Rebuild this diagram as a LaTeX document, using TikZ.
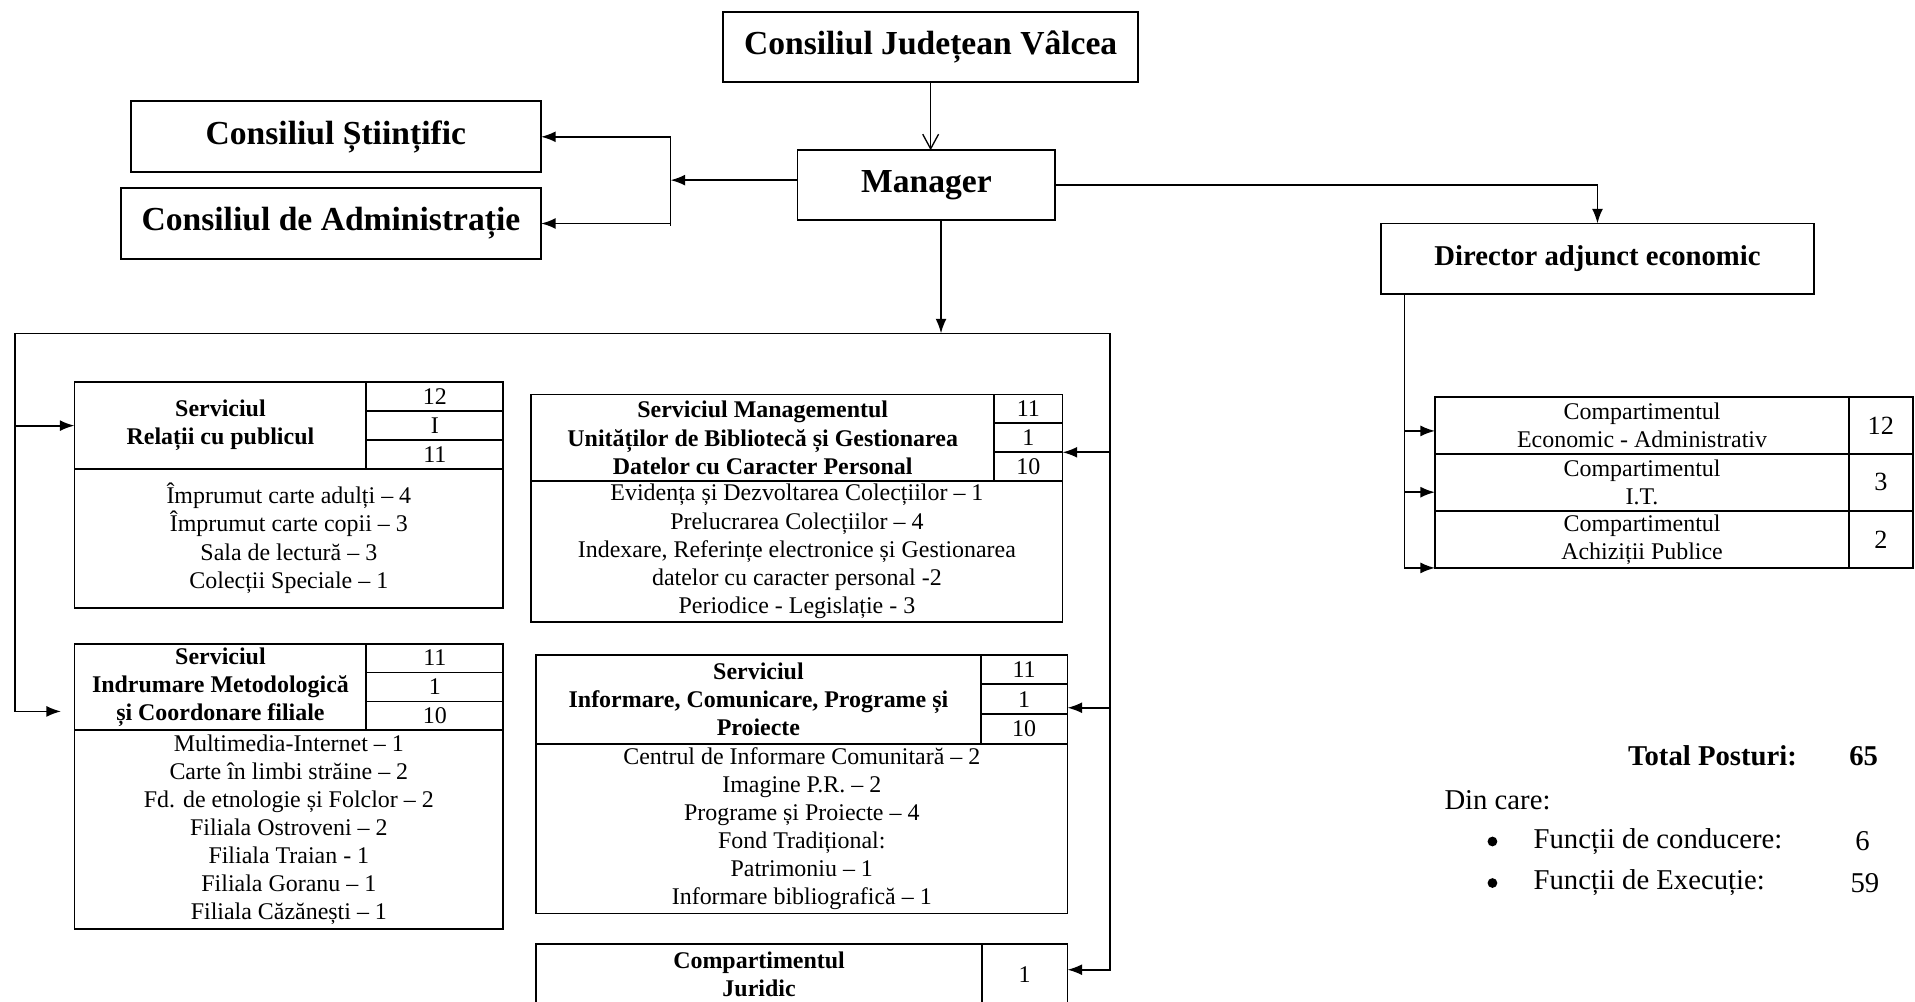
\documentclass[tikz,border=0pt]{standalone}
\usepackage{fontspec}
\setmainfont{Liberation Serif}
\usetikzlibrary{arrows.meta}

\begin{document}
\begin{tikzpicture}[x=1pt, y=-1pt, line width=1.5pt]
	\tikzstyle{bigbox}=[draw=black, rectangle, inner sep=0pt, outer sep=0pt, anchor=north west, font=\fontsize{27.5}{32}\selectfont\bfseries]
	\tikzstyle{cellbox}=[draw=black, rectangle, inner sep=0pt, outer sep=0pt, anchor=north west, align=center, font=\fontsize{19.6}{23}\selectfont]
	\tikzstyle{headbox}=[cellbox, font=\fontsize{19.6}{23}\selectfont\bfseries]
	\tikzstyle{legend}=[inner sep=0pt, font=\fontsize{23.5}{27}\selectfont]
	\tikzstyle{arr}=[-{Latex[length=12pt, width=9pt]}]
	\useasboundingbox (0,0) rectangle (1568,820);
	% Conducere
	\node at (592,10) [bigbox, minimum width=340, minimum height=57] (cjv) {Consiliul Județean Vâlcea};
	\node at (653,123) [bigbox, minimum width=211, minimum height=57] (manager) {Manager};
	\node at (107,83) [bigbox, minimum width=336, minimum height=58] (stiintific) {Consiliul Științific};
	\node at (99,154) [bigbox, minimum width=344, minimum height=58] (admin) {Consiliul de Administrație};
	\node at (1131,183) [bigbox, minimum width=354, minimum height=58, font=\fontsize{23.5}{27}\selectfont\bfseries] (director) {Director adjunct economic};
	%---------------------%
	% Serviciul Relatii cu publicul
	\node at (61,313) [headbox, minimum width=239, minimum height=71] (rp_head) {Serviciul\\Relații cu publicul};
	\foreach \n [count=\i] in {12,I,11}
		\node at (300, 289.33+\i*23.67) [cellbox, minimum width=112, minimum height=23.67] (rp_n\i) {\n};
	\node at (61,384) [cellbox, minimum width=351, minimum height=113.5] (rp_body) {Împrumut carte adulți – 4\\Împrumut carte copii – 3\\Sala de lectură – 3\\Colecții Speciale – 1};
	% Serviciul Indrumare Metodologica
	\node at (61,527) [headbox, minimum width=239, minimum height=71] (im_head) {Serviciul\\Indrumare Metodologică\\și Coordonare filiale};
	\foreach \n [count=\i] in {11,1,10}
		\node at (300, 503.33+\i*23.67) [cellbox, minimum width=112, minimum height=23.67] (im_n\i) {\n};
	\node at (61,598) [cellbox, minimum width=351, minimum height=162.5] (im_body) {Multimedia-Internet – 1\\Carte în limbi străine – 2\\Fd. de etnologie și Folclor – 2\\Filiala Ostroveni – 2\\Filiala Traian - 1\\Filiala Goranu – 1\\Filiala Căzănești – 1};
	% Serviciul Managementul Unitatilor
	\node at (435,323) [headbox, minimum width=379, minimum height=71] (mub_head) {Serviciul Managementul\\Unităților de Bibliotecă și Gestionarea\\Datelor cu Caracter Personal};
	\foreach \n [count=\i] in {11,1,10}
		\node at (814, 299.33+\i*23.67) [cellbox, minimum width=56, minimum height=23.67] (mub_n\i) {\n};
	\node at (435,394) [cellbox, minimum width=435, minimum height=115] (mub_body) {Evidența și Dezvoltarea Colecțiilor – 1\\Prelucrarea Colecțiilor – 4\\Indexare, Referințe electronice și Gestionarea\\datelor cu caracter personal -2\\Periodice - Legislație - 3};
	% Serviciul Informare, Comunicare
	\node at (439,536) [headbox, minimum width=364, minimum height=73] (icp_head) {Serviciul\\Informare, Comunicare, Programe și\\Proiecte};
	\foreach \n [count=\i] in {11,1,10}
		\node at (803, 511.67+\i*24.33) [cellbox, minimum width=71, minimum height=24.33] (icp_n\i) {\n};
	\node at (439,609) [cellbox, minimum width=435, minimum height=139] (icp_body) {Centrul de Informare Comunitară – 2\\Imagine P.R. – 2\\Programe și Proiecte – 4\\Fond Tradițional:\\Patrimoniu – 1\\Informare bibliografică – 1};
	% Compartimentul Juridic
	\node at (439,773) [headbox, minimum width=365, minimum height=50] (jur_head) {Compartimentul\\Juridic};
	\node at (804,773) [cellbox, minimum width=70, minimum height=50] (jur_n) {1};
	% Compartimente economice
	\foreach \name/\txt/\num [count=\i] in {eco/Economic - Administrativ/12, it/I.T./3, achiz/Achiziții Publice/2}{
		\node at (1175, 278.33+\i*46.67) [cellbox, minimum width=339, minimum height=46.67] (\name) {Compartimentul\\\txt};
		\node at (1514, 278.33+\i*46.67) [cellbox, minimum width=52, minimum height=46.67, font=\fontsize{21.5}{25}\selectfont] (\name_n) {\num};
	}
	%---------------------%
	% Total
	\node at (1472,619) [legend, anchor=east, font=\fontsize{23.5}{27}\selectfont\bfseries] (total) {Total Posturi:};
	\node at (1526,619) [legend, font=\fontsize{23.5}{27}\selectfont\bfseries] (total_n) {65};
	\node at (1182,655) [legend, anchor=west] (dincare) {Din care:};
	\node at (1222,689) [circle, fill=black, minimum size=8, inner sep=0pt] (bul_1) {};
	\node at (1222,723) [circle, fill=black, minimum size=8, inner sep=0pt] (bul_2) {};
	\node at (1255,689) [legend, anchor=west] (cond) {Funcții de conducere:};
	\node at (1255,723) [legend, anchor=west] (exec) {Funcții de Execuție:};
	\node at (1525,689) [legend] (cond_n) {6};
	\node at (1527,723) [legend] (exec_n) {59};
	%---------------------%
	% Legaturi
	\coordinate (cons) at (549,0);
	\coordinate (hub_l) at (12,273);
	\coordinate (hub_r) at (909,273);
	\coordinate (dir_v) at (1150,241);
	\draw [-{Straight Barb[length=12pt, width=13pt]}, line width=1.1pt] (cjv.south) -- (cjv.south |- manager.north);
	% Manager -> Consilii
	\draw [arr] ([yshift=4pt]manager.west) -- ([yshift=4pt]manager.west -| cons);
	\draw (stiintific.east -| cons) -- ([yshift=-2pt]admin.east -| cons);
	\draw [arr] (stiintific.east -| cons) -- (stiintific.east);
	\draw [arr] (admin.east -| cons) -- (admin.east);
	% Manager -> Director
	\draw [arr] (manager.east) -| (director.north);
	% Manager -> Servicii
	\draw [arr] ([xshift=12pt]manager.south) -- ([xshift=12pt]manager.south |- hub_l);
	\draw (hub_l) -- (hub_r);
	\draw [arr] (hub_l) |- (rp_head.west);
	\draw [arr, shorten >=11pt] (hub_l) |- ([yshift=-20pt]im_head.west);
	\draw [arr] (hub_r) |- (mub_n3.north east);
	\draw [arr] (hub_r) |- ([yshift=-7pt]icp_n2.east);
	\draw [arr] (hub_r) |- ([yshift=4pt]jur_n.east);
	% Director -> Compartimente
	\draw [arr] (dir_v) |- (achiz.south west);
	\draw [arr] ([yshift=-4.5pt]eco.west -| dir_v) -- ([yshift=-4.5pt]eco.west);
	\draw [arr] ([yshift=-8pt]it.west -| dir_v) -- ([yshift=-8pt]it.west);
\end{tikzpicture}
\end{document}
